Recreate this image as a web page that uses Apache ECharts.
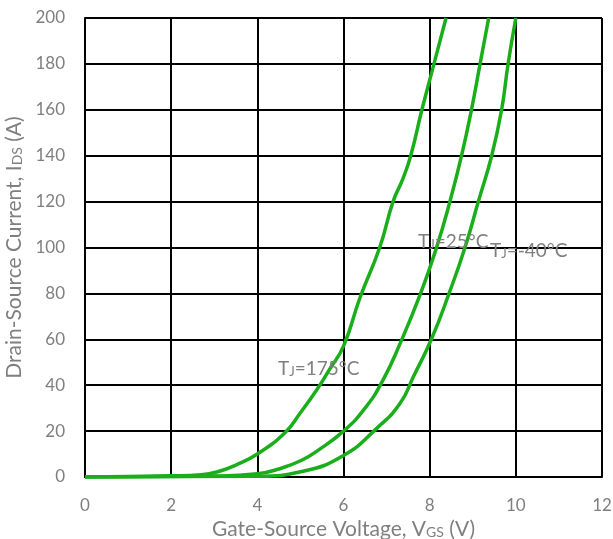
<!DOCTYPE html>
<html><head><meta charset="utf-8">
<script src="https://cdn.jsdelivr.net/npm/echarts@6/dist/echarts.min.js"></script>
<style>html,body{margin:0;padding:0;background:#fff}#c{width:613px;height:539px}</style>
</head><body><div id="c"></div>
<script>
const xTicks = [0, 2, 4, 6, 8, 10, 12];
const yTicks = [0, 20, 40, 60, 80, 100, 120, 140, 160, 180, 200];
const v175 = [0, 2, 2.7, 3.1, 3.5, 4, 4.64, 5, 5.38, 5.68, 6, 6.38, 6.84, 7.15, 7.38, 7.56, 7.82, 8.1, 8.38];
const i175 = [0, 0.5, 1, 2.4, 5.2, 10, 19.3, 28, 38, 47, 57, 78, 100, 120, 130, 140, 160, 180, 200];
const v25 = [0, 3, 4, 4.5, 5.03, 5.4, 6, 6.5, 6.91, 7.31, 7.79, 8.16, 8.47, 8.74, 8.97, 9.17, 9.37];
const i25 = [0, 0.4, 1.4, 3.5, 7.3, 11.5, 20, 30, 42, 58, 80, 100, 120, 140, 160, 180, 200];
const v40 = [0, 4, 5.03, 6, 6.77, 7.31, 7.63, 8.04, 8.45, 8.82, 9.13, 9.44, 9.67, 9.82, 10];
const i40 = [0, 0.3, 2.4, 9.4, 21.2, 32, 44, 60, 80, 100, 120, 140, 160, 180, 200];

const FONT = 'Lato';
const GRAY = '#7f7f7f';
const GREEN = '#1aae1a';
function pairs(xs, ys) { return xs.map((x, i) => [x, ys[i]]); }
function mkSeries(xs, ys) {
  return { type: 'line', data: pairs(xs, ys), smooth: 0.5, showSymbol: false,
    lineStyle: { color: GREEN, width: 3.5 }, z: 5 };
}
const chart = echarts.init(document.getElementById('c'));
const rich = { s: { fontSize: 14, color: GRAY, fontFamily: FONT, verticalAlign: 'bottom' },
  n: { fontSize: 21, color: GRAY, fontFamily: FONT } };
const lblRich = { a: { fontSize: 19, fill: GRAY, fontFamily: FONT },
  b: { fontSize: 13, fill: GRAY, fontFamily: FONT, verticalAlign: 'bottom' } };
chart.setOption({
  animation: false,
  grid: { left: 85, right: 11, top: 18, bottom: 62, containLabel: false, outerBoundsMode: 'none' },
  xAxis: {
    type: 'value', min: 0, max: 12, interval: 2,
    axisLine: { show: true, lineStyle: { color: '#000', width: 2 } },
    axisTick: { show: false },
    splitLine: { show: true, lineStyle: { color: '#000', width: 2 } },
    axisLabel: { color: GRAY, fontSize: 17, fontFamily: FONT, margin: 20 },
    name: '{n|Gate-Source Voltage, V}{s|GS}{n| (V)}',
    nameLocation: 'middle', nameGap: 38,
    nameTextStyle: { rich: rich }
  },
  yAxis: {
    type: 'value', min: 0, max: 200, interval: 20,
    axisLine: { show: true, lineStyle: { color: '#000', width: 2 } },
    axisTick: { show: false },
    splitLine: { show: true, lineStyle: { color: '#000', width: 2 } },
    axisLabel: { color: GRAY, fontSize: 17, fontFamily: FONT, margin: 20 },
    name: '{n|Drain-Source Current, I}{s|DS}{n| (A)}',
    nameLocation: 'middle', nameGap: 55,
    nameTextStyle: { rich: rich }
  },
  series: [mkSeries(v175, i175), mkSeries(v25, i25), mkSeries(v40, i40)],
  graphic: [
    { type: 'text', left: 278, top: 359, z: 10, style: { text: '{a|T}{b|J}{a|=175°C}', rich: lblRich } },
    { type: 'text', left: 418, top: 232, z: 10, style: { text: '{a|T}{b|J}{a|=25°C}', rich: lblRich } },
    { type: 'text', left: 490, top: 241, z: 10, style: { text: '{a|T}{b|J}{a|=-40°C}', rich: lblRich } }
  ]
});
</script></body></html>
